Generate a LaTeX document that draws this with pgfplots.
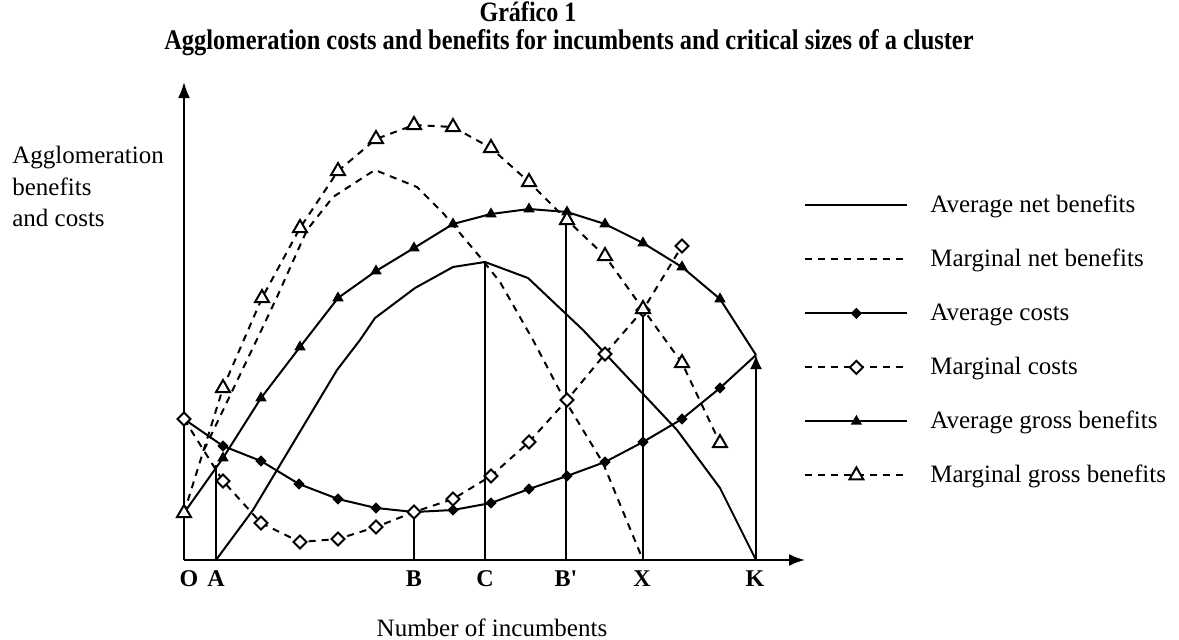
\documentclass[border=0pt]{standalone}
\usepackage{pgfplots}
\pgfplotsset{compat=1.18}
\usetikzlibrary{arrows.meta}
\usepackage{fontspec}
\setmainfont{Liberation Serif}
\begin{document}
\begin{tikzpicture}
\begin{axis}[
  x=0.5pt, y=0.5pt,
  anchor=origin, at={(0,0)},
  xmin=0, xmax=621, ymin=0, ymax=478,
  enlargelimits=false,
  axis lines=left,
  axis line style={line width=1pt, -{Latex[length=8pt,width=6pt]}},
  ytick=\empty,
  xtick={5,32,230,301,382,458,571},
  xticklabels={O,A,B,C,B\textquotesingle,X,K},
  major tick length=0pt,
  xticklabel style={font=\fontsize{12}{14}\selectfont\bfseries, anchor=north, inner sep=0pt, yshift=-5pt},
  clip=false,
  legend image code/.code={\path[draw=none,fill=none] (0pt,-5pt) rectangle (51pt,5pt); \draw[mark repeat=2,mark phase=2,#1] plot coordinates {(0pt,0pt) (25.5pt,0pt) (51pt,0pt)};},
  legend style={at={(axis cs:614,372)}, anchor=north west, draw=none, fill=none,
    font=\fontsize{12.5}{15}\selectfont, row sep=14pt,
    nodes={inner sep=0pt, text height=10pt, text depth=3pt},
    /tikz/every odd column/.append style={column sep=11pt}},
  legend cell align=left,
]
% legend
\addlegendimage{line width=1pt, solid}
\addlegendentry{Average net benefits}
\addlegendimage{line width=1pt, dash pattern=on 3.5pt off 3pt}
\addlegendentry{Marginal net benefits}
\addlegendimage{line width=1pt, solid, mark=square*, mark size=1.5pt, mark options={rotate=45, solid}}
\addlegendentry{Average costs}
\addlegendimage{line width=1pt, dash pattern=on 3.5pt off 3pt, mark=square*, mark size=2.3pt, mark options={rotate=45, solid, fill=white, draw=black}}
\addlegendentry{Marginal costs}
\addlegendimage{line width=1pt, solid, mark=triangle*, mark size=2.3pt, mark options={solid}}
\addlegendentry{Average gross benefits}
\addlegendimage{line width=1pt, dash pattern=on 3.5pt off 3pt, mark=triangle*, mark size=4pt, mark options={solid, fill=white, draw=black}}
\addlegendentry{Marginal gross benefits}

% vertical lines
\addplot[forget plot, line width=1pt] coordinates {(32,0)(32,95)};
\addplot[forget plot, line width=1pt] coordinates {(230,0)(230,48)};
\addplot[forget plot, line width=1pt] coordinates {(301,0)(301,298)};
\addplot[forget plot, line width=1pt] coordinates {(382,0)(382,348)};
\addplot[forget plot, line width=1pt] coordinates {(459,0)(459,250)};
\addplot[forget plot, line width=1pt, -{Latex[length=7pt,width=6pt]}] coordinates {(572,0)(572,205)};

% Average net benefits
\addplot[forget plot, line width=1pt] coordinates {(32,0)(69,50)(153,190)(176,220)(191,242)(231,272)(269,293)(301,298)(344,282)(399,230)(493,130)(536,72)(572,0)};
% Marginal net benefits
\addplot[forget plot, line width=1pt, dash pattern=on 3.5pt off 3pt] coordinates {(20,110)(76,227)(93,263)(123,330)(149,363)(183,385)(191,390)(233,373)(259,347)(296,303)(316,278)(349,220)(379,163)(419,97)(459,0)};
% Average costs
\addplot[forget plot, line width=1pt, mark=square*, mark size=1.5pt, mark options={rotate=45}, mark indices={2,3,4,5,6,7,8,9,10,11,12,13,14,15}] coordinates {(0,141)(39,114)(77,99)(115,76)(154,61)(192,52)(230,48)(269,50)(307,57)(345,71)(383,84)(421,98)(459,118)(498,141)(536,172)(572,205)};
% Average gross benefits
\addplot[forget plot, line width=1pt, mark=triangle*, mark size=2.3pt, mark indices={2,3,4,5,6,7,8,9,10,11,12,13,14,15}] coordinates {(0,47)(39,102)(77,162)(116,213)(154,262)(192,289)(230,312)(269,336)(307,346)(345,351)(383,348)(421,336)(459,317)(498,293)(536,261)(572,205)};
% Marginal costs
\addplot[forget plot, line width=1pt, dash pattern=on 3.5pt off 3pt, mark=square*, mark size=2.3pt, mark options={rotate=45, solid, fill=white, draw=black}] coordinates {(0,141)(39,79)(77,37)(116,18)(154,21)(192,33)(230,48)(269,61)(307,84)(345,118)(383,160)(421,206)(459,250)(498,314)};
% Marginal gross benefits
\addplot[forget plot, line width=1pt, dash pattern=on 3.5pt off 3pt, mark=triangle*, mark size=4pt, mark options={solid, fill=white, draw=black}] coordinates {(0,47)(39,172)(78,262)(116,332)(154,389)(192,421)(230,435)(269,433)(307,412)(345,378)(383,340)(421,304)(459,251)(498,197)(536,117)};

% texts
\node[anchor=north west, align=left, inner sep=0pt, font=\fontsize{12.5}{15.8}\selectfont] at (axis cs:-172,414) {Agglomeration\\benefits\\and costs};
\node[font=\fontsize{12.5}{15}\selectfont] at (axis cs:308,-68) {Number of incumbents};
\node[inner sep=0pt, font=\fontsize{14}{16}\selectfont\bfseries] at (axis cs:344,548) {\scalebox{0.86}[1]{Gráfico 1}};
\node[inner sep=0pt, font=\fontsize{14.2}{16}\selectfont\bfseries] at (axis cs:385,517) {\scalebox{0.86}[1]{Agglomeration costs and benefits for incumbents and critical sizes of a cluster}};
\end{axis}
\pgfresetboundingbox
\path[use as bounding box] (-92pt,-39.5pt) rectangle (497.5pt,280pt);
\end{tikzpicture}
\end{document}
